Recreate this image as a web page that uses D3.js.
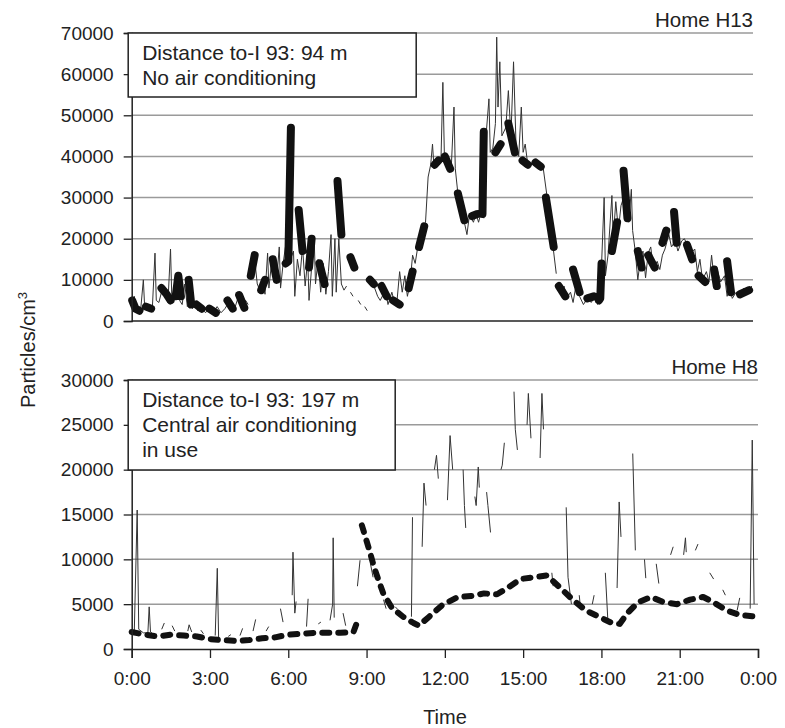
<!DOCTYPE html>
<html>
<head>
<meta charset="utf-8">
<script src="https://cdn.jsdelivr.net/npm/d3@7"></script>
<style>
  body { margin: 0; background: #fff; }
  text { font-family: "Liberation Sans", Arial, Helvetica, sans-serif; fill: #222; }
</style>
</head>
<body>
<div id="chart"></div>
<script>
// time axis (hours) and labels
var hourTicks = [0, 3, 6, 9, 12, 15, 18, 21, 24];
var hourLabels = ["0:00", "3:00", "6:00", "9:00", "12:00", "15:00", "18:00", "21:00", "0:00"];

var h13Ticks = [0, 10000, 20000, 30000, 40000, 50000, 60000, 70000];
var h8Ticks = [0, 5000, 10000, 15000, 20000, 25000, 30000];

// Home H13, thin trace [hour, particles/cm3], null = gap
var h13Thin = [
  [0.00, 4500], [0.05, 2500], [0.10, 6000], [0.15, 3000], [0.25, 3500], [0.35, 3000], [0.45, 10000], [0.50, 3500],
  [0.65, 4000], [0.80, 3500], [0.90, 16500], [0.95, 5000], [1.05, 4500], [1.15, 7000], [1.30, 6000], [1.40, 4500],
  [1.50, 17500], [1.55, 5500], [1.65, 6000], [1.75, 9000], [1.85, 5000], [1.95, 4000], [2.05, 9000], [2.15, 3500],
  [2.25, 5500], [2.35, 3000], [2.45, 4500], [2.55, 2500], [2.70, 3500], [2.85, 2000], [3.00, 3000], [3.15, 2000],
  [3.30, 3500], [3.45, 2000], [3.60, 3000], [3.75, 4500], [3.90, 2500], [4.00, 3500], [4.10, 5500], [4.20, 7000],
  [4.30, 3000], [4.40, 5000], [4.50, 4000], null,
  [4.60, 10000], [4.75, 15000], [4.85, 9000], [4.95, 7500], [5.05, 9500], [5.15, 6500], [5.25, 16500], [5.30, 8000],
  [5.40, 14000], [5.50, 12000], [5.60, 10000], [5.70, 18000], [5.75, 8000], [5.85, 14000], [5.95, 18500], [6.00, 14000],
  [6.05, 13500], [6.25, 17000], [6.30, 6000], [6.40, 15000], [6.50, 11000], [6.60, 18000], [6.70, 8500], [6.80, 15000],
  [6.85, 5000], [6.95, 13000], [7.05, 20000], [7.10, 9000], [7.20, 15000], [7.30, 7000], [7.40, 14000], [7.50, 6500],
  [7.60, 12000], [7.70, 21000], [7.75, 6000], [7.85, 20000], [7.90, 7000], [8.00, 20000], [8.10, 9000], [8.20, 7500],
  [8.30, 8500], null,
  [8.45, 7000], [8.55, 6000], null, [8.75, 5000], [8.85, 4000], null, [9.00, 3500], [9.10, 2500], null,
  [9.30, 9500], [9.50, 6000], [9.60, 5000], [9.80, 7500], [9.90, 4000], [10.05, 7000], [10.15, 4500], [10.25, 5000],
  [10.35, 12000], [10.45, 7000], [10.55, 11000], [10.65, 6000], [10.75, 9000], [10.85, 16000], [10.95, 14000],
  [11.10, 20000], [11.25, 23000], [11.35, 24000], [11.45, 35000], [11.55, 38000], [11.62, 43000], [11.68, 37000],
  [11.80, 38500], [11.95, 40000], [12.02, 58000], [12.08, 40000], [12.20, 39000], [12.35, 38000], [12.45, 52000],
  [12.50, 37000], [12.60, 31000], [12.75, 26000], [12.85, 24000], [12.95, 21000], [13.05, 26000], [13.20, 24000],
  [13.30, 26000], [13.40, 24000], [13.50, 26500], [13.60, 25000], [13.70, 46000], [13.80, 54000], [13.85, 41000],
  [13.95, 42000], [14.05, 48000], [14.10, 69000], [14.15, 52000], [14.22, 63000], [14.30, 45000], [14.45, 47000],
  [14.55, 56000], [14.65, 45000], [14.75, 63000], [14.85, 42000], [14.95, 40000], [15.05, 52000], [15.12, 41000],
  [15.20, 43000], [15.30, 38000], [15.45, 38000], [15.60, 38500], [15.75, 37500], [15.90, 37000], [16.05, 30000],
  [16.20, 22000], [16.40, 11500], null,
  [16.50, 8000], [16.60, 6500], [16.70, 8500], [16.80, 5500], [16.95, 7000], [17.05, 4500], [17.20, 10000],
  [17.30, 6000], [17.45, 4000], [17.60, 5500], [17.75, 4500], [17.90, 6000], [18.00, 4000], [18.10, 5500],
  [18.25, 30000], [18.30, 11000], [18.40, 16000], [18.55, 30500], [18.60, 20000], [18.70, 29000], [18.80, 22000],
  [18.90, 28000], [19.00, 30000], [19.10, 26000], [19.20, 24000], [19.30, 32000], [19.35, 22000], [19.45, 17000],
  [19.55, 10000], [19.65, 15000], [19.75, 17000], [19.85, 10500], [19.95, 16500], [20.05, 18000], [20.15, 13000],
  [20.30, 14500], [20.40, 12500], [20.50, 16000], [20.60, 17500], [20.75, 21000], [20.85, 18000], [21.00, 19500],
  [21.10, 17000], [21.25, 19500], [21.35, 20000], [21.50, 18000], [21.60, 16500], [21.75, 17500], [21.85, 12000],
  [21.95, 15000], [22.05, 10000], [22.20, 12000], [22.30, 9500], [22.40, 16000], [22.50, 10000], [22.60, 13000],
  [22.75, 9500], [22.90, 11000], [23.00, 6000], [23.10, 8000], [23.20, 5500], [23.35, 7000], [23.50, 6000],
  [23.65, 8000], [23.80, 7000], [23.95, 8500]
];

// Home H13, thick trace
var h13Thick = [
  [0.02, 5000], [0.15, 3000], [0.30, 2500], null,
  [0.55, 3500], [0.75, 3000], null,
  [1.15, 8000], [1.35, 6500], [1.50, 5000], null,
  [1.70, 6000], [1.80, 11000], [1.90, 6000], null,
  [2.20, 10000], [2.30, 4000], null,
  [2.50, 4000], [2.70, 3000], null,
  [3.00, 3000], [3.25, 2000], null,
  [3.70, 5000], [3.90, 3000], null,
  [4.15, 6300], [4.35, 3200], null,
  [4.60, 11000], [4.75, 16000], null,
  [5.00, 7500], [5.15, 10000], null,
  [5.45, 15000], [5.60, 10000], null,
  [5.95, 14000], [6.05, 14500], [6.15, 47000], null,
  [6.45, 27000], [6.60, 17000], null,
  [6.85, 13000], [6.95, 20000], null,
  [7.25, 14000], [7.45, 9000], null,
  [7.95, 34000], [8.10, 21000], null,
  [8.45, 15500], [8.60, 13000], null,
  [9.20, 10000], [9.35, 9000], null,
  [9.65, 8500], [9.85, 6000], null,
  [10.10, 5000], [10.35, 4000], null,
  [10.70, 8000], [10.85, 12000], null,
  [11.10, 18000], [11.30, 23000], null,
  [11.70, 38000], [11.85, 39000], null,
  [12.10, 40000], [12.30, 37000], null,
  [12.60, 31000], [12.85, 24500], null,
  [13.15, 25500], [13.35, 26000], null,
  [13.55, 26000], [13.60, 46000], null,
  [14.05, 41000], [14.25, 43000], null,
  [14.55, 48000], [14.80, 41000], null,
  [15.10, 39000], [15.30, 38000], null,
  [15.60, 38500], [15.80, 37500], null,
  [16.00, 30000], [16.30, 18000], null,
  [16.50, 8500], [16.75, 6000], null,
  [17.05, 12500], [17.30, 7000], null,
  [17.60, 5500], [17.85, 6000], null,
  [18.05, 5000], [18.10, 5500], [18.15, 14000], null,
  [18.55, 17000], [18.75, 24000], null,
  [19.00, 36500], [19.15, 25000], null,
  [19.55, 17000], [19.70, 13000], null,
  [19.95, 16000], [20.20, 13000], null,
  [20.50, 19000], [20.65, 22000], null,
  [20.95, 26500], [21.05, 19000], null,
  [21.45, 18500], [21.65, 15000], null,
  [21.90, 11000], [22.15, 9500], null,
  [22.50, 12500], [22.60, 8500], null,
  [23.00, 14500], [23.15, 7000], null,
  [23.50, 6500], [23.85, 7500]
];

// Home H8, thin trace (fragments)
var h8Thin = [
  [0.00, 1900], [0.10, 2000], [0.21, 15500], [0.27, 2200], [0.45, 1800], [0.62, 1800], [0.67, 4700], [0.72, 1900], [0.90, 1500], null,
  [1.15, 2200], [1.25, 2900], null,
  [1.55, 2600], [1.65, 2000], null,
  [2.15, 2000], [2.20, 2700], [2.30, 1900], null,
  [2.65, 2100], [2.75, 1700], null,
  [3.20, 1500], [3.28, 9000], [3.33, 1300], null,
  [3.70, 1400], [3.80, 1600], null,
  [4.15, 1500], [4.25, 2300], null,
  [4.65, 2000], [4.75, 3300], null,
  [5.15, 2000], [5.25, 2500], null,
  [5.70, 4500], [5.80, 3000], null,
  [6.15, 6000], [6.18, 10800], [6.25, 4000], [6.30, 5300], null,
  [6.70, 2500], [6.76, 5600], null,
  [7.15, 2800], [7.25, 3000], null,
  [7.60, 3200], [7.70, 5000], [7.72, 12400], [7.76, 3500], null,
  [8.10, 4000], [8.20, 2600], null,
  [8.65, 7000], [8.75, 9900], null,
  [9.15, 9500], [9.25, 8000], null,
  [9.65, 5500], [9.75, 4500], null,
  [10.10, 4700], [10.20, 4400], null,
  [10.72, 3600], [10.76, 14700], null,
  [11.13, 11400], [11.20, 18500], [11.28, 16000], null,
  [11.60, 20000], [11.68, 21600], [11.75, 19000], null,
  [12.10, 16600], [12.20, 23800], [12.30, 20000], null,
  [12.70, 20000], [12.75, 16000], [12.80, 13500], null,
  [13.15, 17000], [13.20, 16000], [13.28, 20300], [13.32, 18000], null,
  [13.60, 17500], [13.65, 16000], [13.75, 13000], null,
  [14.15, 20000], [14.20, 20500], [14.28, 23000], null,
  [14.65, 28700], [14.70, 24500], [14.78, 22200], null,
  [15.15, 25000], [15.20, 28500], [15.30, 23500], null,
  [15.65, 21300], [15.72, 28500], [15.78, 24500], null,
  [16.10, 8500], [16.15, 7000], null,
  [16.65, 15800], [16.72, 8000], [16.85, 5000], null,
  [17.15, 6000], [17.20, 4500], null,
  [17.65, 5000], [17.72, 6000], null,
  [18.15, 8500], [18.25, 3000], null,
  [18.60, 6800], [18.68, 16400], [18.75, 12500], null,
  [19.20, 21800], [19.30, 11000], null,
  [19.65, 10000], [19.70, 7900], null,
  [20.10, 9500], [20.20, 7300], null,
  [20.65, 10500], [20.75, 11400], null,
  [21.15, 10500], [21.22, 12400], [21.25, 10800], null,
  [21.60, 11000], [21.70, 11700], null,
  [22.15, 8500], [22.30, 7800], null,
  [22.65, 6600], [22.75, 6000], null,
  [23.20, 4300], [23.30, 5700], null,
  [23.70, 4500], [23.78, 23300], [23.85, 5000]
];

// Home H8, thick dashed trace
var h8Thick = [
  [0.0, 1900], [0.5, 1600], [1.0, 1400], [1.5, 1600], [2.0, 1500], [2.5, 1400], [3.0, 1100], [3.5, 1000],
  [4.0, 900], [4.5, 1000], [5.0, 1200], [5.5, 1300], [6.0, 1600], [6.5, 1700], [7.0, 1800], [7.5, 1800],
  [8.0, 1800], [8.5, 1900], [8.6, 2700], null,
  [8.82, 13800], [9.13, 10800], [9.3, 9000], [9.64, 6200], [9.97, 4600], [10.4, 3600], [10.8, 2900], [11.0, 2600],
  [11.4, 3600], [11.9, 4900], [12.5, 5800], [13.0, 5900], [13.5, 6200], [14.0, 6100], [14.4, 6800], [14.9, 7800],
  [15.4, 8000], [15.9, 8200], [16.1, 7700], [16.5, 6600], [16.9, 5500], [17.4, 4300], [17.9, 3600], [18.4, 2900],
  [18.7, 2800], [19.0, 4000], [19.4, 5200], [19.9, 5800], [20.4, 5200], [20.9, 5000], [21.4, 5500], [21.9, 5800],
  [22.3, 5200], [22.8, 4300], [23.3, 3800], [24.0, 3600]
];

var width = 785, height = 728;

var svg = d3.select("#chart")
    .append("svg")
    .attr("width", width)
    .attr("height", height);

function drawPanel(opts) {
    var x = d3.scaleLinear().domain([0, 24]).range([opts.left, opts.right]);
    var y = d3.scaleLinear().domain([0, opts.max]).range([opts.bottom, opts.top]);

    var g = svg.append("g");

    // gridlines
    g.selectAll(".grid")
        .data(opts.ticks.filter(function (d) { return d > 0; }))
        .enter().append("line")
        .attr("x1", opts.left)
        .attr("x2", opts.right)
        .attr("y1", function (d) { return y(d); })
        .attr("y2", function (d) { return y(d); })
        .attr("stroke", "#9a9a9a")
        .attr("stroke-width", 1.5);

    var line = d3.line()
        .defined(function (d) { return d !== null; })
        .x(function (d) { return x(d[0]); })
        .y(function (d) { return y(d[1]); });

    g.append("path")
        .datum(opts.thin)
        .attr("fill", "none")
        .attr("stroke", "#333")
        .attr("stroke-width", 1)
        .attr("d", line);

    var thick = g.append("path")
        .datum(opts.thick)
        .attr("fill", "none")
        .attr("stroke", "#111")
        .attr("stroke-width", opts.thickWidth)
        .attr("stroke-linecap", "round")
        .attr("stroke-linejoin", "round")
        .attr("d", line);
    if (opts.dash) thick.attr("stroke-dasharray", opts.dash);

    // y axis
    var yAxis = g.append("g")
        .attr("transform", "translate(" + opts.left + ",0)")
        .call(d3.axisLeft(y).tickValues(opts.ticks).tickSize(8).tickPadding(10).tickFormat(d3.format("d")));
    yAxis.selectAll("text").style("font-size", "19px").attr("fill", "#222");
    yAxis.selectAll("line").attr("stroke", "#222").attr("stroke-width", 1.3);
    yAxis.select(".domain").attr("stroke", "#222").attr("stroke-width", 1.5);

    // x axis
    if (opts.showX) {
        var xAxis = g.append("g")
            .attr("transform", "translate(0," + opts.bottom + ")")
            .call(d3.axisBottom(x).tickValues(hourTicks).tickSize(9).tickPadding(14)
                .tickFormat(function (d, i) { return hourLabels[i]; }));
        xAxis.selectAll("text").style("font-size", "19px").attr("fill", "#222");
        xAxis.selectAll("line").attr("stroke", "#222").attr("stroke-width", 1.3);
        xAxis.select(".domain").attr("stroke", "#222").attr("stroke-width", 1.5);
    } else {
        g.append("line")
            .attr("x1", opts.left).attr("x2", opts.right)
            .attr("y1", y(0)).attr("y2", y(0))
            .attr("stroke", "#222")
            .attr("stroke-width", 1.5);
    }

    // note box
    g.append("rect")
        .attr("x", opts.left - 3.5)
        .attr("y", opts.top)
        .attr("width", opts.boxW)
        .attr("height", opts.boxH)
        .attr("fill", "#fff")
        .attr("stroke", "#222")
        .attr("stroke-width", 1.5);

    opts.note.forEach(function (t, i) {
        g.append("text")
            .attr("x", opts.left + 10.5)
            .attr("y", opts.top + 27 + i * 25)
            .style("font-size", "21px")
            .text(t);
    });

    g.append("text")
        .attr("x", opts.right)
        .attr("y", opts.top - 6)
        .attr("text-anchor", "end")
        .style("font-size", "20.5px")
        .text(opts.title);
}

drawPanel({
    left: 131.7, right: 753, top: 33, bottom: 321, max: 70000, ticks: h13Ticks,
    thin: h13Thin, thick: h13Thick, thickWidth: 8, dash: null, showX: false,
    boxW: 288, boxH: 64, note: ["Distance to-I 93: 94 m", "No air conditioning"], title: "Home H13"
});

drawPanel({
    left: 131.7, right: 758, top: 380, bottom: 649, max: 30000, ticks: h8Ticks,
    thin: h8Thin, thick: h8Thick, thickWidth: 6, dash: "7,9", showX: true,
    boxW: 267, boxH: 90, note: ["Distance to-I 93: 197 m", "Central air conditioning", "in use"], title: "Home H8"
});

// axis titles
var yTitle = svg.append("text")
    .attr("transform", "translate(35,350) rotate(-90)")
    .attr("text-anchor", "middle")
    .style("font-size", "20px");
yTitle.append("tspan").text("Particles/cm");
yTitle.append("tspan").attr("dy", -8).style("font-size", "13px").text("3");

svg.append("text")
    .attr("x", 445)
    .attr("y", 724)
    .attr("text-anchor", "middle")
    .style("font-size", "20px")
    .text("Time");
</script>
</body>
</html>
